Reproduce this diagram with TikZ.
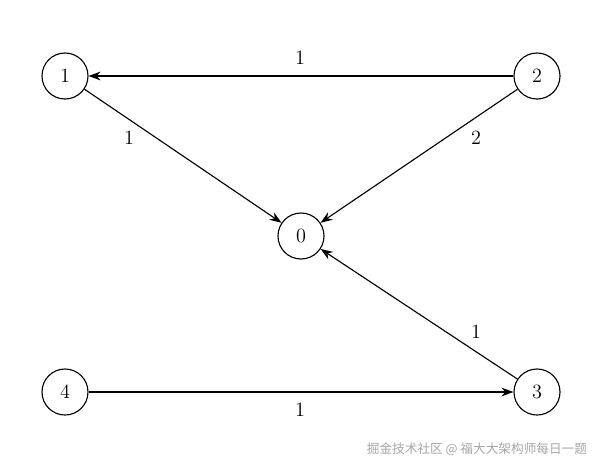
\documentclass[tikz,border=0pt]{standalone}
\usepackage{fontspec}
\newfontfamily\cjk{Noto Sans CJK SC}
\usetikzlibrary{arrows.meta}
\begin{document}
\begin{tikzpicture}[x=0.025cm,y=-0.025cm,
  vert/.style={circle,draw,line width=0.8pt,minimum size=11.5mm,inner sep=0pt,font=\Large},
  edge/.style={-{Stealth[length=3mm,width=2.2mm]},line width=0.8pt},
  lab/.style={font=\Large}]
\useasboundingbox (0,0) rectangle (603,469);
\node[vert] (n1) at (65,76) {1};
\node[vert] (n2) at (537,76) {2};
\node[vert] (n0) at (301,236) {0};
\node[vert] (n4) at (65,392) {4};
\node[vert] (n3) at (537,392) {3};
\draw[edge] (n2) -- (n1);
\draw[edge] (n1) -- (n0);
\draw[edge] (n2) -- (n0);
\draw[edge] (n3) -- (n0);
\draw[edge] (n4) -- (n3);
\node[lab] (l21) at (300,58) {1};
\node[lab] (l10) at (129,138) {1};
\node[lab] (l20) at (476,138) {2};
\node[lab] (l30) at (476,332) {1};
\node[lab] (l43) at (300,410) {1};
\node[text=gray!70,font=\cjk\fontsize{9}{10}\selectfont,anchor=east] (wm) at (592,449) {掘金技术社区 @ 福大大架构师每日一题};
\end{tikzpicture}
\end{document}
